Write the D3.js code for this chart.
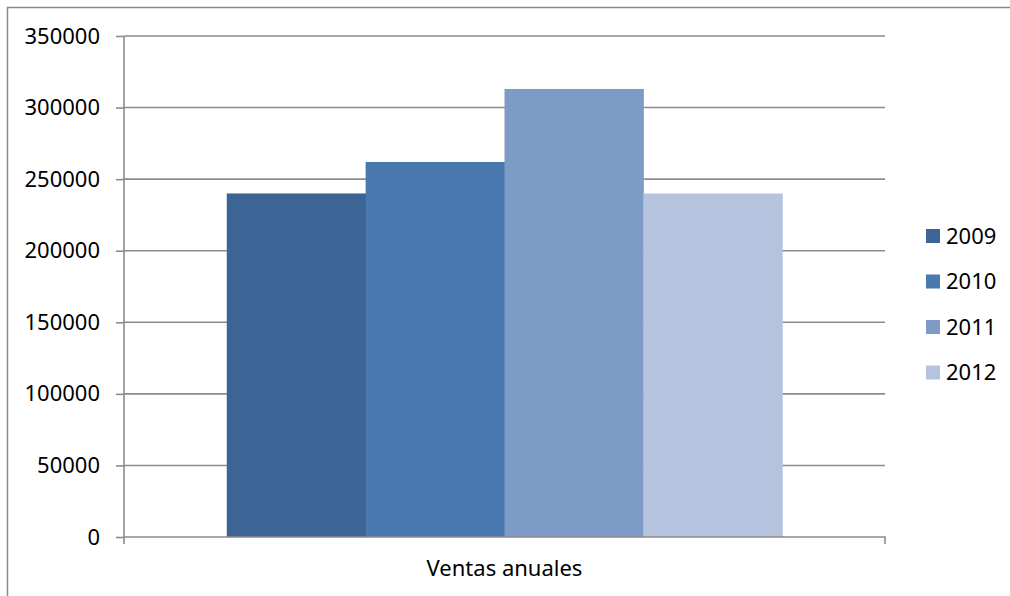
<!DOCTYPE html>
<html>
<head>
<meta charset="utf-8">
<script src="https://cdn.jsdelivr.net/npm/d3@7"></script>
<style>
  body { margin: 0; background: #fff; }
  text { font-family: "Noto Sans", "Open Sans", sans-serif; fill: #000; }
</style>
</head>
<body>
<div id="chart"></div>
<script>
// chart data
const categories = ["Ventas anuales"];
const seriesNames = ["2009", "2010", "2011", "2012"];
const seriesValues = [240000, 262000, 313000, 240000];
const yTicks = [0, 50000, 100000, 150000, 200000, 250000, 300000, 350000];
const seriesColors = ["#3c6595", "#4a79b0", "#7e9bc8", "#b6c3df"];

const width = 1010, height = 596;
const margin = { top: 36, right: 125, bottom: 59, left: 124 };

const svg = d3.select("#chart")
    .append("svg")
    .attr("width", width)
    .attr("height", height);

// outer chart border (runs off the picture right and bottom)
svg.append("rect")
    .attr("x", 7.5).attr("y", 7.5)
    .attr("width", width + 20).attr("height", height + 20)
    .attr("fill", "none")
    .attr("stroke", "#8a8a8a")
    .attr("stroke-width", 1.5);

const x0 = d3.scaleBand()
    .domain(categories)
    .range([margin.left, width - margin.right]);

const x1 = d3.scaleBand()
    .domain(seriesNames)
    .range([0, x0.bandwidth()])
    .paddingInner(0)
    .paddingOuter(0.74);

const y = d3.scaleLinear()
    .domain([0, 350000])
    .range([height - margin.bottom, margin.top]);

// gridlines
svg.append("g")
    .selectAll("line")
    .data(yTicks.filter(d => d > 0))
    .join("line")
    .attr("x1", margin.left)
    .attr("x2", width - margin.right)
    .attr("y1", d => y(d))
    .attr("y2", d => y(d))
    .attr("stroke", "#8c8c8c")
    .attr("stroke-width", 1.6);

// bars
svg.append("g")
    .selectAll("rect")
    .data(seriesNames.map((s, i) => ({ cat: categories[0], name: s, value: seriesValues[i], color: seriesColors[i] })))
    .join("rect")
    .attr("x", d => x0(d.cat) + x1(d.name))
    .attr("width", x1.bandwidth() + 0.5)
    .attr("y", d => y(d.value))
    .attr("height", d => y(0) - y(d.value))
    .attr("fill", d => d.color);

// y axis
const yAxis = svg.append("g")
    .attr("transform", `translate(${margin.left},0)`)
    .call(d3.axisLeft(y).tickValues(yTicks).tickFormat(d3.format("d")).tickSize(8).tickPadding(16));
yAxis.selectAll("path, line").attr("stroke", "#8c8c8c").attr("stroke-width", 1.6);
yAxis.select(".domain").attr("d", `M0,${y(350000)}V${y(0) + 0.5}`);
yAxis.selectAll("text").style("font-size", "22px").attr("fill", "#000");

// x axis
const xAxis = svg.append("g")
    .attr("transform", `translate(0,${y(0)})`)
    .call(d3.axisBottom(x0).tickSize(0).tickPadding(23));
xAxis.select(".domain").attr("d", `M${margin.left},7V0H${width - margin.right}V7`)
    .attr("stroke", "#8c8c8c").attr("stroke-width", 1.6);
xAxis.selectAll("text").style("font-size", "22px").attr("fill", "#000");

// legend
const legend = svg.append("g")
    .selectAll("g")
    .data(seriesNames)
    .join("g")
    .attr("transform", (d, i) => `translate(926,${236 + i * 45.5})`);
legend.append("rect")
    .attr("x", 0).attr("y", -7)
    .attr("width", 14).attr("height", 14)
    .attr("fill", (d, i) => seriesColors[i]);
legend.append("text")
    .attr("x", 20)
    .attr("dy", "0.36em")
    .style("font-size", "22px")
    .text(d => d);
</script>
</body>
</html>
